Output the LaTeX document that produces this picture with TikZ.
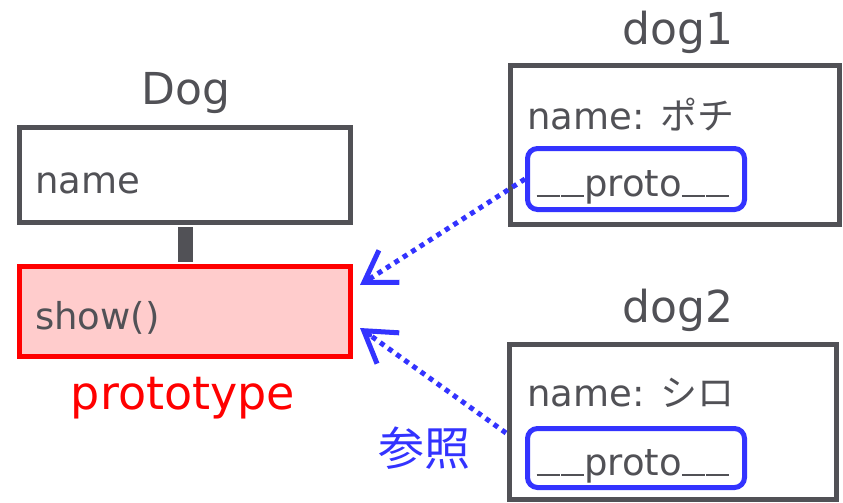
\documentclass[tikz,border=0pt]{standalone}
\usepackage{fontspec}
\setmainfont{DejaVu Sans}
\newfontfamily\jpfont{Noto Sans CJK JP}
\usetikzlibrary{arrows.meta,calc}
\definecolor{ink}{HTML}{515156}
\definecolor{refblue}{HTML}{3333FF}
\definecolor{protored}{HTML}{FF0000}
\definecolor{protofill}{HTML}{FFCCCC}
% wide underscore as used in __proto__
\newcommand{\usc}{\rule[-1pt]{23pt}{2.4pt}}
\newcommand{\protoname}{\usc\hspace{1.5pt}\usc proto\usc\hspace{1.5pt}\usc}

\begin{document}
\begin{tikzpicture}[x=1pt,y=-1pt,
  box/.style={draw=ink, line width=5pt, fill=white, rectangle, inner sep=0pt},
  protobox/.style={draw=refblue, line width=5pt, rounded corners=10pt, rectangle, inner sep=0pt},
  title/.style={text=ink, font=\fontsize{44}{50}\selectfont, inner sep=0pt, anchor=base},
  field/.style={text=ink, font=\fontsize{37}{42}\selectfont, inner sep=0pt, anchor=base west},
  refarrow/.style={draw=refblue, line width=5pt, dash pattern=on 5pt off 5pt},
  refhead/.style={draw=refblue, line width=5pt, solid, line cap=round, line join=round,
    -{Straight Barb[length=30pt,width=38pt,line width=5pt]}},
]
\useasboundingbox (0,0) rectangle (843,503);

% class Dog and its prototype object
\node[box, minimum width=331pt, minimum height=95pt] (dogname) at (185,174.5) {};
\node[box, draw=protored, fill=protofill, minimum width=331pt, minimum height=90pt] (show) at (185,311.5) {};
\draw[ink, line width=15pt, shorten <=2.5pt, shorten >=2.5pt] (dogname.south) -- (show.north);
\node[title] (dogtitle) at (186,104) {Dog};
\node[field] (namefield) at (35,193) {name};
\node[field] (showfield) at (35,329) {show()};
\node[title, text=protored, font=\fontsize{46}{52}\selectfont] (prototag) at (183,409) {prototype};

% instance dog1
\node[box, minimum width=329.5pt, minimum height=159pt] (dog1) at (674.75,145) {};
\node[title] (dog1title) at (678,45) {dog1};
\node[field] (dog1name) at (527,129) {name: {\jpfont ポチ}};
\node[protobox, minimum width=217pt, minimum height=61pt] (dog1proto) at (636,179) {};
\node[field, anchor=base] (dog1protolabel) at (633,196) {\protoname};

% instance dog2
\node[box, minimum width=327pt, minimum height=154.5pt] (dog2) at (673,421.75) {};
\node[title] (dog2title) at (678,322) {dog2};
\node[field] (dog2name) at (527,406) {name: {\jpfont シロ}};
\node[protobox, minimum width=217pt, minimum height=59pt] (dog2proto) at (636,458) {};
\node[field, anchor=base] (dog2protolabel) at (633,475) {\protoname};

% references to the prototype: dotted shaft, solid open head
\node[text=refblue, font=\jpfont\fontsize{46}{52}\selectfont, inner sep=0pt] (refnote) at (424,448) {参照};
\coordinate (tip1) at (360,285);
\coordinate (tip2) at (360,328);
\coordinate (src2) at (506,433);
\draw[refarrow, shorten >=6pt] (dog1proto.west) -- (tip1);
\draw[refhead] ($(tip1)!12pt!(dog1proto.west)$) -- (tip1);
\draw[refarrow, shorten >=6pt] (src2) -- (tip2);
\draw[refhead] ($(tip2)!12pt!(src2)$) -- (tip2);
\end{tikzpicture}
\end{document}
